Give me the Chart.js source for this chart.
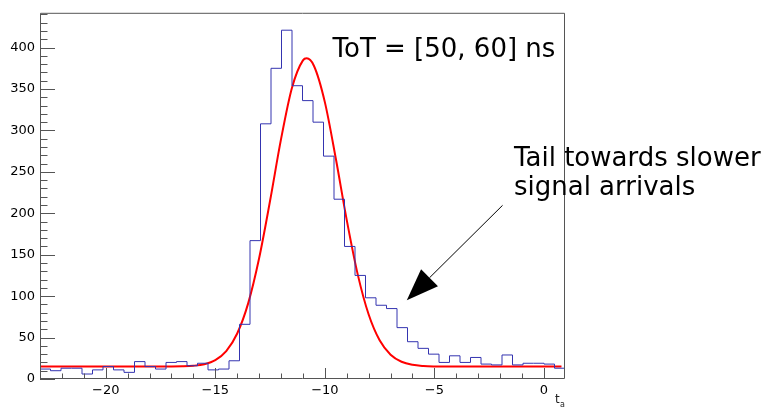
<!DOCTYPE html>
<html>
<head>
<meta charset="utf-8">
<script src="https://cdn.jsdelivr.net/npm/chart.js@4/dist/chart.umd.min.js"></script>
<style>
    html, body { margin: 0; padding: 0; background: #fff; }
    #wrap { width: 770px; height: 410px; }
</style>
</head>
<body>
<div id="wrap"><canvas id="totChart" width="770" height="410"></canvas></div>
<script>
// Histogram: 50 bins between xMin and xMax
const xMin = -23;
const xMax = 0.96;
const counts = [12, 10, 13, 13, 6, 11, 15, 11, 8, 21,
                15, 12, 20, 21, 16, 19, 11, 12, 22, 66,
                167, 308, 375, 421, 354, 336, 310, 269, 217, 160,
                125, 98, 89, 85, 62, 45, 37, 30, 20, 28,
                20, 26, 18, 17, 29, 17, 19, 19, 18, 13];

// Fit curve (red)
const fitX = [-23, -17, -16.5, -16, -15.5, -15, -14.5, -14, -13.5, -13, -12.5, -12, -11.5, -11, -10.83,
              -10.5, -10, -9.5, -9, -8.5, -8, -7.5, -7, -6.5, -6, -5.5, -5, -4, 0.8];
const fitY = [15, 15.1, 15.3, 16.0, 17.9, 22.8, 33.7, 54.9, 91.3, 145.7, 215.1, 289.5, 351.6, 384.6, 387,
              378.1, 334.2, 266.1, 191.8, 126.3, 77.8, 46.7, 29.3, 20.8, 17.1, 15.7, 15.2, 15, 15];

// Axes
const yMax = 442;
const yMajor = [0, 50, 100, 150, 200, 250, 300, 350, 400];
const xMajor = [-20, -15, -10, -5, 0];

// Text
const labelTop = 'ToT = [50, 60] ns';
const labelTail = ['Tail towards slower', 'signal arrivals'];
const axisTitle = 't';
const axisSub = 'a';

const nBins = counts.length;
const binW = (xMax - xMin) / nBins;
const histPoints = counts.map((c, i) => ({ x: xMin + i * binW, y: c }));
histPoints.push({ x: xMax, y: counts[nBins - 1] });
const fitPoints = fitX.map((x, i) => ({ x: x, y: fitY[i] }));

const minus = v => (v < 0 ? '\u2212' + Math.abs(v) : String(v));

// frame, inside ticks, annotations
const rootStyle = {
    id: 'rootStyle',
    afterDatasetsDraw(chart) {
        const ctx = chart.ctx;
        const a = chart.chartArea;
        const xs = chart.scales.x, ys = chart.scales.y;
        ctx.save();
        ctx.strokeStyle = '#555';
        ctx.lineWidth = 1;
        ctx.beginPath();
        ctx.rect(a.left + 0.5, a.top + 0.5, a.right - a.left - 1, a.bottom - a.top - 1);
        ctx.stroke();

        // y ticks
        ctx.beginPath();
        for (let v = 0; v <= yMax; v += 10) {
            const py = Math.round(ys.getPixelForValue(v)) + 0.5;
            const len = v % 50 === 0 ? 15 : 7.5;
            ctx.moveTo(a.left, py);
            ctx.lineTo(a.left + len, py);
        }
        // x ticks
        for (let v = Math.ceil(xMin); v <= xMax; v += 1) {
            const px = Math.round(xs.getPixelForValue(v)) + 0.5;
            const len = v % 5 === 0 ? 11 : 5.5;
            ctx.moveTo(px, a.bottom);
            ctx.lineTo(px, a.bottom - len);
        }
        ctx.stroke();
        ctx.restore();
    },
    afterDraw(chart) {
        const ctx = chart.ctx;
        const xs = chart.scales.x, ys = chart.scales.y;
        ctx.save();
        ctx.fillStyle = '#000';
        ctx.font = '26px "DejaVu Sans"';
        ctx.textBaseline = 'alphabetic';
        ctx.fillText(labelTop, xs.getPixelForValue(-9.65), ys.getPixelForValue(389));
        ctx.fillText(labelTail[0], xs.getPixelForValue(-1.37), ys.getPixelForValue(257.5));
        ctx.fillText(labelTail[1], xs.getPixelForValue(-1.37), ys.getPixelForValue(221.5));

        // arrow
        const tx = xs.getPixelForValue(-6.26), ty = ys.getPixelForValue(95);
        const sx = xs.getPixelForValue(-1.89), sy = ys.getPixelForValue(209.6);
        const ang = Math.atan2(ty - sy, tx - sx);
        const hl = 32, hw = 12;
        const bx = tx - hl * Math.cos(ang), by = ty - hl * Math.sin(ang);
        ctx.strokeStyle = '#000';
        ctx.lineWidth = 1;
        ctx.beginPath();
        ctx.moveTo(sx, sy);
        ctx.lineTo(bx, by);
        ctx.stroke();
        ctx.beginPath();
        ctx.moveTo(tx, ty);
        ctx.lineTo(bx + hw * Math.sin(ang), by - hw * Math.cos(ang));
        ctx.lineTo(bx - hw * Math.sin(ang), by + hw * Math.cos(ang));
        ctx.closePath();
        ctx.fill();

        // axis title t_a
        const area = chart.chartArea;
        ctx.fillStyle = '#222';
        ctx.font = '12px "DejaVu Sans"';
        ctx.fillText(axisTitle, area.right - 10, 403);
        ctx.font = '8px "DejaVu Sans"';
        ctx.fillText(axisSub, area.right - 5, 407);
        ctx.restore();
    }
};

new Chart(document.getElementById('totChart'), {
    type: 'line',
    data: {
        datasets: [{
            data: histPoints,
            stepped: 'before',
            borderColor: '#3434b0',
            borderWidth: 1,
            pointRadius: 0,
            fill: false
        }, {
            data: fitPoints,
            borderColor: '#ff0000',
            borderWidth: 2,
            pointRadius: 0,
            cubicInterpolationMode: 'monotone',
            fill: false
        }]
    },
    options: {
        responsive: false,
        animation: false,
        devicePixelRatio: 1,
        layout: { padding: { left: 0, right: 205, top: 12, bottom: 0 } },
        plugins: {
            legend: { display: false },
            tooltip: { enabled: false }
        },
        scales: {
            x: {
                type: 'linear',
                min: xMin,
                max: xMax,
                afterFit: s => { s.height = 31; },
                afterBuildTicks: s => { s.ticks = xMajor.map(v => ({ value: v })); },
                grid: { display: false, drawTicks: false },
                border: { display: false },
                ticks: {
                    padding: 4,
                    maxRotation: 0,
                    color: '#000',
                    font: { family: 'DejaVu Sans', size: 13 },
                    callback: v => minus(v)
                }
            },
            y: {
                type: 'linear',
                min: 0,
                max: yMax,
                afterFit: s => { s.width = 40; },
                afterBuildTicks: s => { s.ticks = yMajor.map(v => ({ value: v })); },
                grid: { display: false, drawTicks: false },
                border: { display: false },
                ticks: {
                    padding: 5,
                    color: '#000',
                    font: { family: 'DejaVu Sans', size: 13 },
                    callback: v => minus(v)
                }
            }
        }
    },
    plugins: [rootStyle]
});
</script>
</body>
</html>
